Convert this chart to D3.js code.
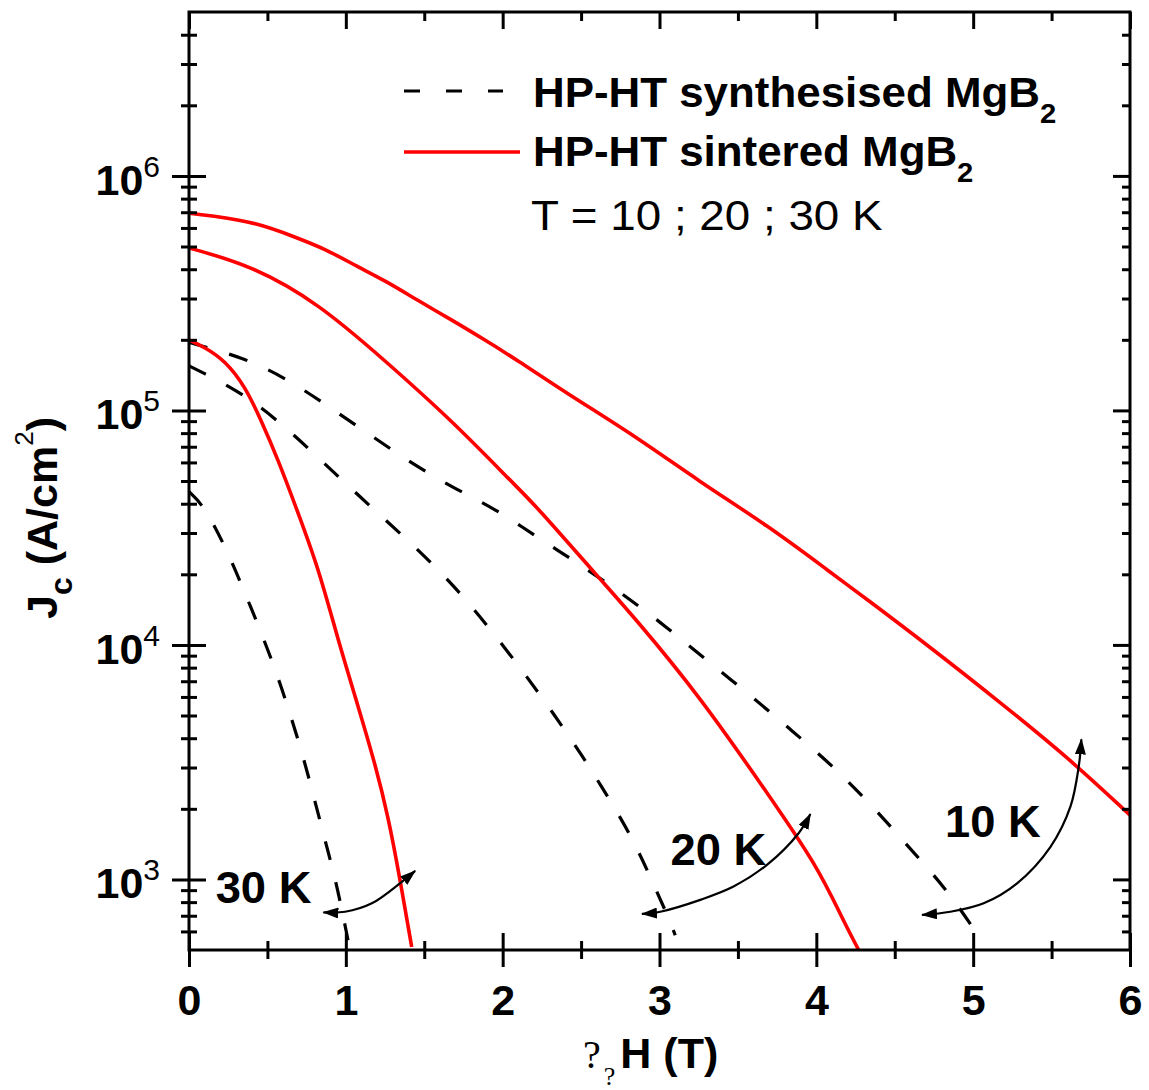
<!DOCTYPE html>
<html>
<head>
<meta charset="utf-8">
<script src="https://cdn.jsdelivr.net/npm/d3@7"></script>
<style>
  html, body { margin: 0; padding: 0; background: #fff; }
  svg { display: block; }
  text { font-family: "Liberation Sans", Arial, Helvetica, sans-serif; fill: #000; }
</style>
</head>
<body>
<svg id="chart" width="1149" height="1090"></svg>
<script>
// Critical current density Jc versus applied field, MgB2 samples at 10, 20, 30 K

// --- field values (T) and Jc (A/cm^2), HP-HT sintered MgB2 ---
const sintered10K_H = [0, 0.40, 0.68, 0.87, 1.08, 1.25, 1.46, 1.68, 1.89, 2.08, 2.41, 2.84, 3.26, 3.69, 4.09, 4.32, 4.75, 5.17, 5.60, 6.00];
const sintered10K_J = [6.93e5, 6.45e5, 5.47e5, 4.88e5, 4.08e5, 3.58e5, 2.94e5, 2.42e5, 1.99e5, 1.66e5, 1.18e5, 7.82e4, 4.94e4, 3.23e4, 2.04e4, 1.57e4, 9.5e3, 5.7e3, 3.33e3, 1.88e3];

const sintered20K_H = [0, 0.40, 0.83, 1.25, 1.68, 2.08, 2.20, 2.62, 2.84, 3.26, 3.69, 4.01, 4.17, 4.27];
const sintered20K_J = [4.93e5, 4.15e5, 2.85e5, 1.63e5, 9.0e4, 4.78e4, 4.0e4, 1.91e4, 1.31e4, 6.0e3, 2.32e3, 1.13e3, 670, 500];

const sintered30K_H = [0, 0.10, 0.23, 0.36, 0.46, 0.57, 0.69, 0.83, 0.95, 1.08, 1.19, 1.27, 1.34, 1.42];
const sintered30K_J = [2.0e5, 1.86e5, 1.63e5, 1.26e5, 9.06e4, 6.12e4, 3.74e4, 2.08e4, 1.05e4, 5.43e3, 3.05e3, 1.85e3, 1.05e3, 515];

// --- HP-HT synthesised MgB2 ---
const synth10K_H = [0, 0.35, 0.62, 0.89, 1.16, 1.42, 1.69, 1.95, 2.23, 2.49, 2.77, 3.04, 3.30, 3.58, 3.84, 4.10, 4.36, 4.59, 4.82, 5.01, 5.05];
const synth10K_J = [1.95e5, 1.68e5, 1.37e5, 1.04e5, 7.82e4, 5.94e4, 4.65e4, 3.82e4, 2.85e4, 2.21e4, 1.64e4, 1.20e4, 8.6e3, 6.1e3, 4.33e3, 3.07e3, 2.05e3, 1.37e3, 927, 608, 550];

const synth20K_H = [0, 0.06, 0.36, 0.64, 0.91, 1.17, 1.44, 1.70, 1.92, 2.13, 2.32, 2.51, 2.67, 2.83, 2.95, 3.07, 3.10];
const synth20K_J = [1.55e5, 1.48e5, 1.17e5, 8.22e4, 5.55e4, 3.82e4, 2.63e4, 1.76e4, 1.17e4, 7.7e3, 5.15e3, 3.35e3, 2.26e3, 1.49e3, 994, 658, 578];

const synth30K_H = [0, 0.10, 0.24, 0.35, 0.46, 0.56, 0.65, 0.73, 0.80, 0.87, 0.94, 0.995, 1.014];
const synth30K_J = [4.5e4, 3.89e4, 2.55e4, 1.71e4, 1.13e4, 7.55e3, 4.95e3, 3.31e3, 2.19e3, 1.45e3, 961, 637, 550];

// --- curved double arrows linking the two samples at each temperature ---
const arrow30K_H = [0.857, 0.995, 1.166, 1.357, 1.442];
const arrow30K_J = [724, 728, 791, 977, 1088];
const arrow20K_H = [2.888, 3.005, 3.260, 3.472, 3.685, 3.887, 3.962];
const arrow20K_J = [713, 728, 818, 932, 1153, 1574, 1900];
const arrow10K_H = [4.674, 4.855, 5.067, 5.280, 5.493, 5.620, 5.673, 5.690];
const arrow10K_J = [706, 728, 791, 962, 1377, 2042, 3027, 3956];

// temperature labels: text, field and Jc of the label baseline start
const tempLabels = ["30 K", "20 K", "10 K"];
const tempLabel_H = [0.17, 3.07, 4.82];
const tempLabel_J = [793, 1153, 1517];

// axis ticks
const xMajorTicks = [0, 1, 2, 3, 4, 5, 6];
const xMinorTicks = [0.5, 1.5, 2.5, 3.5, 4.5, 5.5];
const yMajorTicks = [1e3, 1e4, 1e5, 1e6];
const yMajorExp = ["3", "4", "5", "6"];
const yMinorTicks = [600, 700, 800, 900,
  2e3, 3e3, 4e3, 5e3, 6e3, 7e3, 8e3, 9e3,
  2e4, 3e4, 4e4, 5e4, 6e4, 7e4, 8e4, 9e4,
  2e5, 3e5, 4e5, 5e5, 6e5, 7e5, 8e5, 9e5,
  2e6, 3e6, 4e6];

const legendLabels = ["HP-HT synthesised MgB", "HP-HT sintered MgB"];
const legendNote = "T = 10 ; 20 ; 30 K";

const svg = d3.select("#chart");
const x = d3.scaleLinear().domain([0, 6]).range([189, 1130]);
const y = d3.scaleLog().domain([500, 5e6]).range([950, 12]);

const [x0, x1] = x.range();
const [yb, yt] = y.range();

const zip = (hs, js) => hs.map((h, i) => [h, js[i]]);

// clip curves to the frame
const defs = svg.append("defs");
defs.append("clipPath").attr("id", "plotclip")
  .append("rect").attr("x", x0).attr("y", yt).attr("width", x1 - x0).attr("height", yb - yt);

defs.append("marker")
  .attr("id", "head")
  .attr("viewBox", "0 0 16 11")
  .attr("refX", 15).attr("refY", 5.5)
  .attr("markerWidth", 16).attr("markerHeight", 11)
  .attr("markerUnits", "userSpaceOnUse")
  .attr("orient", "auto-start-reverse")
  .append("path").attr("d", "M0,0 L16,5.5 L0,11 Z").attr("fill", "#000");

const line = d3.line()
  .x(d => x(d[0]))
  .y(d => y(d[1]))
  .curve(d3.curveBasis);

const curves = svg.append("g").attr("clip-path", "url(#plotclip)");

const synthSeries = [zip(synth10K_H, synth10K_J), zip(synth20K_H, synth20K_J), zip(synth30K_H, synth30K_J)];
const sinterSeries = [zip(sintered10K_H, sintered10K_J), zip(sintered20K_H, sintered20K_J), zip(sintered30K_H, sintered30K_J)];

curves.selectAll("path.synth").data(synthSeries).join("path")
  .attr("class", "synth")
  .attr("d", line)
  .attr("fill", "none")
  .attr("stroke", "#000")
  .attr("stroke-width", 3.2)
  .attr("stroke-dasharray", "19,23");

curves.selectAll("path.sinter").data(sinterSeries).join("path")
  .attr("class", "sinter")
  .attr("d", line)
  .attr("fill", "none")
  .attr("stroke", "#ff0000")
  .attr("stroke-width", 3.6);

// arrows
const arrowLine = d3.line()
  .x(d => x(d[0]))
  .y(d => y(d[1]))
  .curve(d3.curveCatmullRom.alpha(0.5));

const arrows = [zip(arrow30K_H, arrow30K_J), zip(arrow20K_H, arrow20K_J), zip(arrow10K_H, arrow10K_J)];
svg.append("g").selectAll("path").data(arrows).join("path")
  .attr("d", arrowLine)
  .attr("fill", "none")
  .attr("stroke", "#000")
  .attr("stroke-width", 2.2)
  .attr("marker-start", "url(#head)")
  .attr("marker-end", "url(#head)");

// bold text, slightly widened
function wideText(parent, px, py, sx) {
  return parent.append("g")
    .attr("transform", `translate(${px},${py}) scale(${sx},1)`)
    .append("text");
}

const tl = svg.append("g");
tempLabels.forEach((t, i) => {
  wideText(tl, x(tempLabel_H[i]), y(tempLabel_J[i]), 1.03)
    .attr("font-size", 44)
    .attr("font-weight", "bold")
    .text(t);
});

// --- axes ---
const axisColor = "#000";
function styleAxis(g) {
  g.select(".domain").remove();
  g.selectAll(".tick line").attr("stroke", axisColor).attr("stroke-width", 3);
}

// bottom: ticks cross the axis line
const bottomMajor = svg.append("g").attr("transform", `translate(0,${yb})`)
  .call(d3.axisBottom(x).tickValues(xMajorTicks).tickSize(17).tickFormat(d3.format("d")));
styleAxis(bottomMajor);
bottomMajor.selectAll(".tick line").attr("y1", -17).attr("y2", 17);
bottomMajor.selectAll(".tick text")
  .attr("y", 65).attr("dy", 0)
  .attr("font-size", 43).attr("font-weight", "bold")
  .attr("font-family", "'Liberation Sans', Arial, sans-serif");

const bottomMinor = svg.append("g").attr("transform", `translate(0,${yb})`)
  .call(d3.axisBottom(x).tickValues(xMinorTicks).tickSize(9).tickFormat(""));
styleAxis(bottomMinor);
bottomMinor.selectAll(".tick line").attr("y1", -9).attr("y2", 9);

// top: inward ticks only
const topMajor = svg.append("g").attr("transform", `translate(0,${yt})`)
  .call(d3.axisTop(x).tickValues(xMajorTicks).tickSize(17).tickFormat(""));
styleAxis(topMajor);
topMajor.selectAll(".tick line").attr("y1", 0).attr("y2", 17);
const topMinor = svg.append("g").attr("transform", `translate(0,${yt})`)
  .call(d3.axisTop(x).tickValues(xMinorTicks).tickSize(9).tickFormat(""));
styleAxis(topMinor);
topMinor.selectAll(".tick line").attr("y1", 0).attr("y2", 9);

// left: ticks cross the axis line
const leftMajor = svg.append("g").attr("transform", `translate(${x0},0)`)
  .call(d3.axisLeft(y).tickValues(yMajorTicks).tickSize(17).tickFormat(""));
styleAxis(leftMajor);
leftMajor.selectAll(".tick line").attr("x1", -17).attr("x2", 17);
const leftMinor = svg.append("g").attr("transform", `translate(${x0},0)`)
  .call(d3.axisLeft(y).tickValues(yMinorTicks).tickSize(8).tickFormat(""));
styleAxis(leftMinor);
leftMinor.selectAll(".tick line").attr("x1", -8).attr("x2", 8);

// right: inward ticks only
const rightMajor = svg.append("g").attr("transform", `translate(${x1},0)`)
  .call(d3.axisRight(y).tickValues(yMajorTicks).tickSize(17).tickFormat(""));
styleAxis(rightMajor);
rightMajor.selectAll(".tick line").attr("x1", 0).attr("x2", -17);
const rightMinor = svg.append("g").attr("transform", `translate(${x1},0)`)
  .call(d3.axisRight(y).tickValues(yMinorTicks).tickSize(8).tickFormat(""));
styleAxis(rightMinor);
rightMinor.selectAll(".tick line").attr("x1", 0).attr("x2", -8);

// y tick labels as 10^n
const yl = svg.append("g").selectAll("text").data(yMajorTicks).join("text")
  .attr("x", 160)
  .attr("y", d => y(d) + 19)
  .attr("text-anchor", "end");
yl.append("tspan").attr("font-size", 43).attr("font-weight", "bold").text("10");
yl.append("tspan").attr("font-size", 30).attr("dy", -18).text((d, i) => yMajorExp[i]);

// frame
svg.append("rect")
  .attr("x", x0).attr("y", yt)
  .attr("width", x1 - x0).attr("height", yb - yt)
  .attr("fill", "none").attr("stroke", axisColor).attr("stroke-width", 3);

// axis titles
const xt = svg.append("text").attr("x", 583).attr("y", 1068);
xt.append("tspan").attr("font-family", "'Liberation Serif', 'Times New Roman', serif").attr("font-size", 40).text("?");
xt.append("tspan").attr("font-family", "'Liberation Serif', 'Times New Roman', serif").attr("font-size", 26).attr("dx", 3).attr("dy", 17).text("?");
xt.append("tspan").attr("font-size", 43).attr("font-weight", "bold").attr("dx", 5).attr("dy", -17).text("H (T)");

const ytl = svg.append("text")
  .attr("transform", "translate(57,518) rotate(-90)")
  .attr("text-anchor", "middle")
  .attr("font-weight", "bold");
ytl.append("tspan").attr("font-size", 43).text("J");
ytl.append("tspan").attr("font-size", 32).attr("dy", 15).text("c");
ytl.append("tspan").attr("font-size", 43).attr("dy", -15).text(" (A/cm");
ytl.append("tspan").attr("font-size", 26).attr("font-weight", "normal").attr("dy", -24).text("2");
ytl.append("tspan").attr("font-size", 43).attr("dy", 24).text(")");

// legend
const legend = svg.append("g");
legend.append("line")
  .attr("x1", 404).attr("x2", 503).attr("y1", 91).attr("y2", 91)
  .attr("stroke", "#000").attr("stroke-width", 3).attr("stroke-dasharray", "16,26");
legend.append("line")
  .attr("x1", 404).attr("x2", 520).attr("y1", 152).attr("y2", 152)
  .attr("stroke", "#ff0000").attr("stroke-width", 3.5);

legendLabels.forEach((label, i) => {
  const t = wideText(legend, 533, 107 + i * 59, 1.045).attr("font-weight", "bold");
  t.append("tspan").attr("font-size", 42).text(label);
  t.append("tspan").attr("font-size", 28).attr("dy", 16).text("2");
});

wideText(legend, 531, 230, 1.09)
  .attr("font-size", 42)
  .text(legendNote);
</script>
</body>
</html>
